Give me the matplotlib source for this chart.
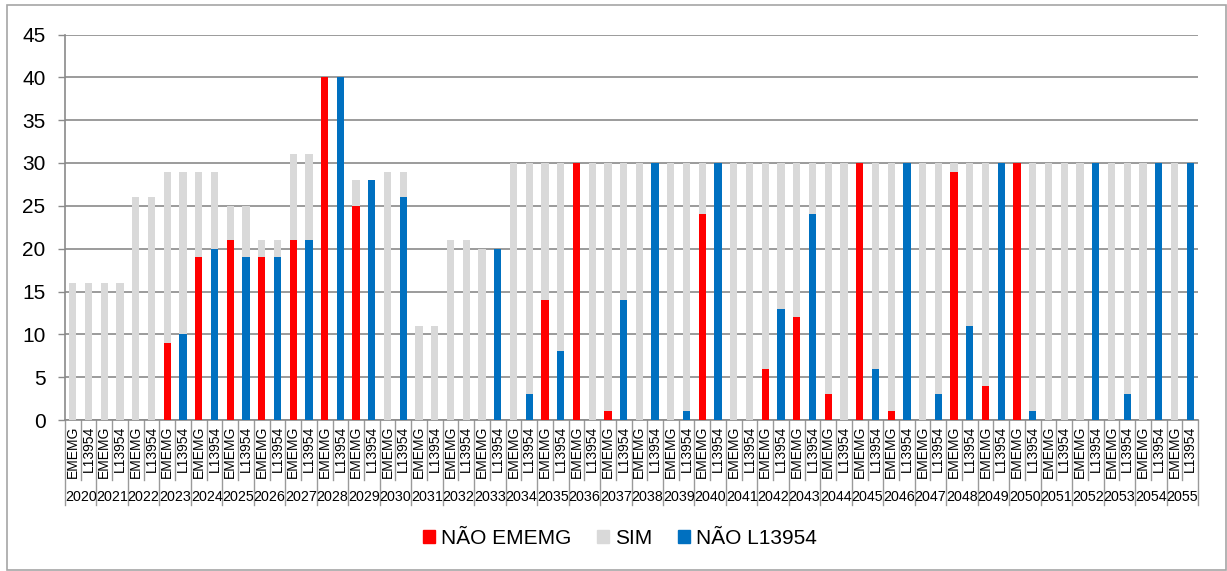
import numpy as np
import matplotlib
matplotlib.use("Agg")
import matplotlib.pyplot as plt
from matplotlib.patches import Patch, Rectangle

plt.rcParams['font.family'] = ['Liberation Sans', 'DejaVu Sans']

years = list(range(2020, 2056))
groups = ["EMEMG", "L13954"]
# total per year (height of the grey "SIM" stack)
total = [16, 16, 26, 29, 29, 25, 21, 31, 40, 28,
         29, 11, 21, 20, 30, 30, 30, 30, 30, 30,
         30, 30, 30, 30, 30, 30, 30, 30, 30, 30,
         30, 30, 30, 30, 30, 30]
nao_ememg = [0, 0, 0, 9, 19, 21, 19, 21, 40, 25,
             0, 0, 0, 0, 0, 14, 30, 1, 0, 0,
             24, 0, 6, 12, 3, 30, 1, 0, 29, 4,
             30, 0, 0, 0, 0, 0]
nao_l13954 = [0, 0, 0, 10, 20, 19, 19, 21, 40, 28,
              26, 0, 0, 20, 3, 8, 0, 14, 30, 1,
              30, 0, 13, 24, 0, 6, 30, 3, 11, 30,
              1, 0, 30, 3, 30, 30]

RED = "#ff0000"
BLUE = "#0070c0"
GREY = "#d9d9d9"
LINE = "#8a8a8a"

total = np.array(total)
nao_ememg = np.array(nao_ememg)
nao_l13954 = np.array(nao_l13954)
n = len(years)

W, H = 1227, 571
fig = plt.figure(figsize=(W / 100, H / 100), dpi=100)
ax = fig.add_axes([65 / W, 1 - 420 / H, (1198 - 65) / W, (420 - 34.5) / H])

ex = np.arange(n) * 2
lx = ex + 1
bw = 0.46
ax.bar(ex, nao_ememg, width=bw, color=RED, zorder=3)
ax.bar(ex, total - nao_ememg, bottom=nao_ememg, width=bw, color=GREY, zorder=3)
ax.bar(lx, nao_l13954, width=bw, color=BLUE, zorder=3)
ax.bar(lx, total - nao_l13954, bottom=nao_l13954, width=bw, color=GREY, zorder=3)

ax.set_xlim(-0.5, 2 * n - 0.5)
ax.set_ylim(0, 45)
ax.set_yticks(range(0, 46, 5))
ax.yaxis.grid(True, color=LINE, lw=1.2, zorder=0)
ax.tick_params(axis='y', labelsize=15, length=5, color=LINE, pad=9, width=1)
ax.set_xticks([])
for s in ["top", "right"]:
    ax.spines[s].set_visible(False)
for s in ["left", "bottom"]:
    ax.spines[s].set_color(LINE)
    ax.spines[s].set_linewidth(1.2)

# two-level category axis
tr = ax.get_xaxis_transform()
ph = 420 - 34.5
for i in range(2 * n + 1):
    y0 = -(505 - 420) / ph if i % 2 == 0 else -(480 - 420) / ph
    ax.plot([i - 0.5, i - 0.5], [0, y0], color="#9a9a9a", lw=1,
            transform=tr, clip_on=False)
for i in range(2 * n):
    ax.text(i, -(426 - 420) / ph, groups[i % 2], rotation=90, ha='center',
            va='top', fontsize=10, transform=tr)
for j, yr in enumerate(years):
    ax.text(2 * j + 0.5, -(497 - 420) / ph, str(yr), ha='center',
            va='center', fontsize=10.3, transform=tr)

handles = [Patch(color=RED, label="NÃO EMEMG"),
           Patch(color=GREY, label="SIM"),
           Patch(color=BLUE, label="NÃO L13954")]
fig.legend(handles=handles, loc='center', bbox_to_anchor=(620 / W, 1 - 538 / H),
           ncol=3, frameon=False, fontsize=15, handlelength=0.6,
           handleheight=0.6, handletextpad=0.3, columnspacing=1.2)

fig.patches.append(Rectangle((7 / W, 1 / H), (1226 - 7) / W, (570 - 5) / H,
                             transform=fig.transFigure, fill=False,
                             edgecolor="#a6a6a6", lw=1.2))

fig.savefig("out.png", dpi=100)
